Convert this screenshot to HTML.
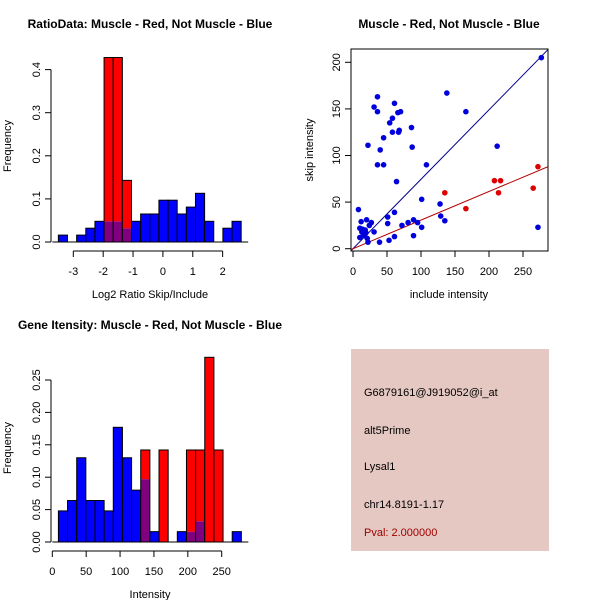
<!DOCTYPE html>
<html><head><meta charset="utf-8"><style>
html,body{margin:0;padding:0;background:#fff}
svg{display:block;font-family:"Liberation Sans",sans-serif}
</style></head><body>
<svg id="c" width="600" height="600" viewBox="0 0 600 600" xmlns="http://www.w3.org/2000/svg">
<rect x="0" y="0" width="600" height="600" fill="#fff"/>
<text x="150" y="28" text-anchor="middle" font-size="12" font-weight="bold">RatioData: Muscle - Red, Not Muscle - Blue</text>
<text x="449" y="28" text-anchor="middle" font-size="12" font-weight="bold">Muscle - Red, Not Muscle - Blue</text>
<text x="150" y="329" text-anchor="middle" font-size="12" font-weight="bold">Gene Itensity: Muscle - Red, Not Muscle - Blue</text>
<text x="150" y="298" text-anchor="middle" font-size="11">Log2 Ratio Skip/Include</text>
<text x="150" y="598" text-anchor="middle" font-size="11">Intensity</text>
<text x="449" y="298" text-anchor="middle" font-size="11">include intensity</text>
<text transform="translate(11,146) rotate(-90)" text-anchor="middle" font-size="11">Frequency</text>
<text transform="translate(11,448) rotate(-90)" text-anchor="middle" font-size="11">Frequency</text>
<text transform="translate(313,150) rotate(-90)" text-anchor="middle" font-size="11">skip intensity</text>
<g>
<rect x="351" y="349" width="198" height="202" fill="#e5c8c2"/>
<text x="364" y="396" font-size="11" fill="#000">G6879161@J919052@i_at</text>
<text x="364" y="434" font-size="11" fill="#000">alt5Prime</text>
<text x="364" y="470" font-size="11" fill="#000">Lysal1</text>
<text x="364" y="508" font-size="11" fill="#000">chr14.8191-1.17</text>
<text x="364" y="536" font-size="11" fill="#a00000">Pval: 2.000000</text>
</g>
</svg>
<script>
// Ratio histogram data
const ratioStart = -3.5;
const ratioBinWidth = 0.306;
const ratioBlue = [0.016,0,0.016,0.032,0.048,0.048,0.048,0.032,0.048,0.065,0.065,0.097,0.097,0.065,0.081,0.113,0.048,0,0.032,0.048];
const ratioRed  = [0,0,0,0,0,0.428,0.428,0.143,0,0,0,0,0,0,0,0,0,0,0,0];
const ratioXTicks = [-3,-2,-1,0,1,2];
const ratioYTicks = [0,0.1,0.2,0.3,0.4];
// Intensity histogram data
const intStart = 9;
const intBinWidth = 13.5;
const intBlue = [0.048,0.064,0.13,0.064,0.064,0.048,0.177,0.13,0.08,0.097,0.016,0,0,0.016,0.016,0.032,0,0,0,0.016];
const intRed  = [0,0,0,0,0,0,0,0,0,0.142,0,0.142,0,0,0.142,0.142,0.285,0.142,0,0];
const intXTicks = [0,50,100,150,200,250];
const intYTicks = [0,0.05,0.10,0.15,0.20,0.25];
const intYLabels = ["0.00","0.05","0.10","0.15","0.20","0.25"];
// Scatter data
const blueX = [8,12,10,20,27,24,31,39,21,22,10,15,18,13,17,14,19,22,31,36,36,40,45,36,45,54,58,61,58,61,51,51,53,61,66,70,67,68,64,72,86,87,81,89,89,95,101,101,108,128,129,135,138,166,212,272,277];
const blueY = [42,29,22,31,28,25,18,7,11,7,12,16,20,18,14,21,17,111,152,163,147,106,119,90,90,135,140,156,125,39,34,27,9,13,146,147,125,127,72,25,130,109,28,31,14,28,23,53,90,48,35,30,167,147,110,23,205];
const redX = [135,166,208,217,214,265,272];
const redY = [60,43,73,73,60,65,88];
const lineSlopes = [0.745,0.307];
const scXTicks = [0,50,100,150,200,250];
const scYTicks = [0,50,100,150,200];

const svg = document.getElementById('c');
const NS = 'http://www.w3.org/2000/svg';
function mk(tag, attrs){const e=document.createElementNS(NS,tag);for(const k in attrs)e.setAttribute(k,attrs[k]);svg.appendChild(e);return e;}

function histogram(cfg){
  const xs = v => cfg.x0 + (v - cfg.xv0) * cfg.kx;
  const ys = v => cfg.y0 - v * cfg.ky;
  for(let i=0;i<cfg.blue.length;i++){
    const l = xs(cfg.start + i*cfg.bw), r = xs(cfg.start + (i+1)*cfg.bw);
    const b = cfg.blue[i], rd = cfg.red[i];
    const parts = [];
    if(b>0 && rd>0){
      const m = Math.min(b,rd);
      parts.push([m,'#800080']);
      parts.push([Math.max(b,rd), b>rd?'#0000ff':'#ff0000', m]);
    } else if(b>0) parts.push([b,'#0000ff']);
    else if(rd>0) parts.push([rd,'#ff0000']);
    parts.forEach(p=>{
      const lo = p[2]||0;
      const el = mk('rect',{x:l,y:ys(p[0]),width:r-l,height:ys(lo)-ys(p[0]),fill:p[1]});
      
      
    });
    if(b>0||rd>0){
      const o = mk('rect',{x:l,y:ys(Math.max(b,rd)),width:r-l,height:ys(0)-ys(Math.max(b,rd)),fill:'none',stroke:'#000','stroke-width':1});
      
      
    }
  }
  // x axis
  const xa = mk('line',{x1:xs(cfg.xt[0]),x2:xs(cfg.xt[cfg.xt.length-1]),y1:cfg.xaxisY,y2:cfg.xaxisY,stroke:'#000'});
  
  
  cfg.xt.forEach(t=>{
    mk('line',{x1:xs(t),x2:xs(t),y1:cfg.xaxisY,y2:cfg.xaxisY+6,stroke:'#000'});
    const tx = mk('text',{x:xs(t),y:cfg.xaxisY+24,'text-anchor':'middle','font-size':11});
    tx.textContent = t;
    
    
  });
  const ya = mk('line',{x1:cfg.yaxisX,x2:cfg.yaxisX,y1:ys(cfg.yt[0]),y2:ys(cfg.yt[cfg.yt.length-1]),stroke:'#000'});
  
  
  cfg.yt.forEach((t,i)=>{
    mk('line',{x1:cfg.yaxisX-6,x2:cfg.yaxisX,y1:ys(t),y2:ys(t),stroke:'#000'});
    const tx = mk('text',{transform:`translate(${cfg.yaxisX-11},${ys(t)}) rotate(-90)`,'text-anchor':'middle','font-size':11});
    tx.textContent = cfg.yl[i];
    
    
  });
  const base = mk('line',{x1:xs(cfg.start)-6,x2:xs(cfg.start+cfg.blue.length*cfg.bw)+7,y1:ys(0),y2:ys(0),stroke:'#000'});
  
  
}

histogram({name:'ratio',blue:ratioBlue,red:ratioRed,start:ratioStart,bw:ratioBinWidth,
  x0:73.3,xv0:-3,kx:29.87,y0:242,ky:431,xaxisY:251,yaxisX:51,
  xt:ratioXTicks,yt:ratioYTicks,yl:ratioYTicks.map(v=>v.toFixed(1))});
histogram({name:'intensity',blue:intBlue,red:intRed,start:intStart,bw:intBinWidth,
  x0:52.3,xv0:0,kx:0.6776,y0:542,ky:648,xaxisY:551,yaxisX:51,
  xt:intXTicks,yt:intYTicks,yl:intYLabels});

// Scatter
const sx = v => 353 + v*0.68;
const sy = v => 248.7 - v*0.932;
const box = mk('rect',{x:351,y:49,width:197,height:202,fill:'none',stroke:'#000'});


mk('clipPath',{id:'sc'}).appendChild(Object.assign(document.createElementNS(NS,'rect'),{})).setAttribute('x','351');
const cp = svg.querySelector('#sc rect'); cp.setAttribute('y','49'); cp.setAttribute('width','197'); cp.setAttribute('height','202');
const lineColors = ['#00008b','#b00000'];
lineSlopes.forEach((s,i)=>{
  const ln = mk('line',{x1:sx(-5),y1:sy(-5*s),x2:sx(300),y2:sy(300*s),stroke:lineColors[i],'stroke-width':1,'clip-path':'url(#sc)'});
  
  
});
blueX.forEach((x,i)=>{
  const p = mk('circle',{cx:sx(x),cy:sy(blueY[i]),r:2.8,fill:'#0000dd'});
  
  
});
redX.forEach((x,i)=>{
  const p = mk('circle',{cx:sx(x),cy:sy(redY[i]),r:2.8,fill:'#dd0000'});
  
  
});
scXTicks.forEach(t=>{
  mk('line',{x1:sx(t),x2:sx(t),y1:251,y2:257,stroke:'#000'});
  const tx = mk('text',{x:sx(t),y:275,'text-anchor':'middle','font-size':11});
  tx.textContent = t;
  
  
});
scYTicks.forEach(t=>{
  mk('line',{x1:345,x2:351,y1:sy(t),y2:sy(t),stroke:'#000'});
  const tx = mk('text',{transform:`translate(340,${sy(t)}) rotate(-90)`,'text-anchor':'middle','font-size':11});
  tx.textContent = t;
  
  
});
</script>
</body></html>
